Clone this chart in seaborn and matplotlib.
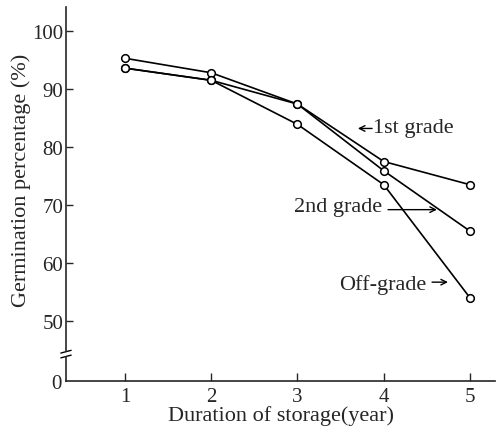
import matplotlib
matplotlib.use("Agg")
import matplotlib.pyplot as plt
import seaborn as sns
import pandas as pd

years = [1, 2, 3, 4, 5]
first_grade = [95.3, 92.8, 87.4, 77.5, 73.5]
second_grade = [93.6, 91.5, 87.4, 75.9, 65.5]
off_grade = [93.6, 91.5, 83.9, 73.5, 54.0]
series_names = ["1st grade", "2nd grade", "Off-grade"]
y_ticks_top = [50, 60, 70, 80, 90, 100]
y_ticks_bottom = [0]

sns.set_style("ticks")
plt.rcParams["font.family"] = ["Liberation Serif", "DejaVu Serif"]
plt.rcParams["mathtext.fontset"] = "dejavuserif"

df = pd.DataFrame({
    "year": years * 3,
    "value": first_grade + second_grade + off_grade,
    "grade": [series_names[0]] * 5 + [series_names[1]] * 5 + [series_names[2]] * 5,
})

fig = plt.figure(figsize=(4.97, 4.27), dpi=100)
left, right = 66 / 497, 495 / 497
ax = fig.add_axes([left, 1 - 352 / 427, right - left, (352 - 8) / 427])
axb = fig.add_axes([left, 1 - 382 / 427, right - left, (382 - 358) / 427], sharex=ax)

sns.lineplot(data=df, x="year", y="value", hue="grade",
             palette=["black"] * 3, legend=False, ax=ax, sort=False,
             marker="o", markersize=5.5, markerfacecolor="white",
             markeredgecolor="black", markeredgewidth=1.1, linewidth=1.2,
             dashes=False)

ax.set_xlim(0.316, 5.29)
ax.set_ylim(44.83, 104.14)
axb.set_ylim(0, 4.14)

for a in (ax, axb):
    a.spines["top"].set_visible(False)
    a.spines["right"].set_visible(False)
    a.spines["left"].set_linewidth(1.2)
    a.spines["bottom"].set_linewidth(1.2)
    a.set_facecolor("none")
ax.spines["bottom"].set_visible(False)

ax.set_yticks(y_ticks_top)
ax.tick_params(axis="y", direction="in", length=5, width=1, labelsize=15, pad=2)
ax.tick_params(axis="x", bottom=False, labelbottom=False)
ax.set_xlabel("")
ax.set_ylabel("Germination percentage (%)", fontsize=16, labelpad=1)

axb.set_yticks(y_ticks_bottom)
axb.set_xticks(years)
axb.tick_params(axis="y", direction="in", length=0, labelsize=15, pad=3)
axb.tick_params(axis="x", direction="in", length=6, width=1, labelsize=15, pad=4)
axb.set_xlabel("Duration of storage(year)", fontsize=16, labelpad=0)
axb.set_ylabel("")

# axis break marks
kw = dict(color="black", linewidth=1.0, clip_on=False, transform=ax.transAxes)
ax.plot([-0.012, 0.012], [-0.006, 0.002], **kw)
ax.plot([-0.012, 0.012], [-0.02, -0.012], **kw)

# annotations
arrow = dict(arrowstyle="->", color="black", lw=1.0, shrinkA=0, shrinkB=0)
ax.text(3.875, 83.45, "1st grade", fontsize=16, ha="left", va="center")
ax.annotate("", xy=(3.70, 83.2), xytext=(3.865, 83.2), arrowprops=arrow)
ax.text(3.98, 69.66, "2nd grade", fontsize=16, ha="right", va="center")
ax.annotate("", xy=(4.617, 69.2), xytext=(4.05, 69.2), arrowprops=arrow)
ax.text(4.50, 56.4, "Off-grade", fontsize=16, ha="right", va="center")
ax.annotate("", xy=(4.745, 56.7), xytext=(4.56, 56.7), arrowprops=arrow)

fig.savefig("out.png", dpi=100)
